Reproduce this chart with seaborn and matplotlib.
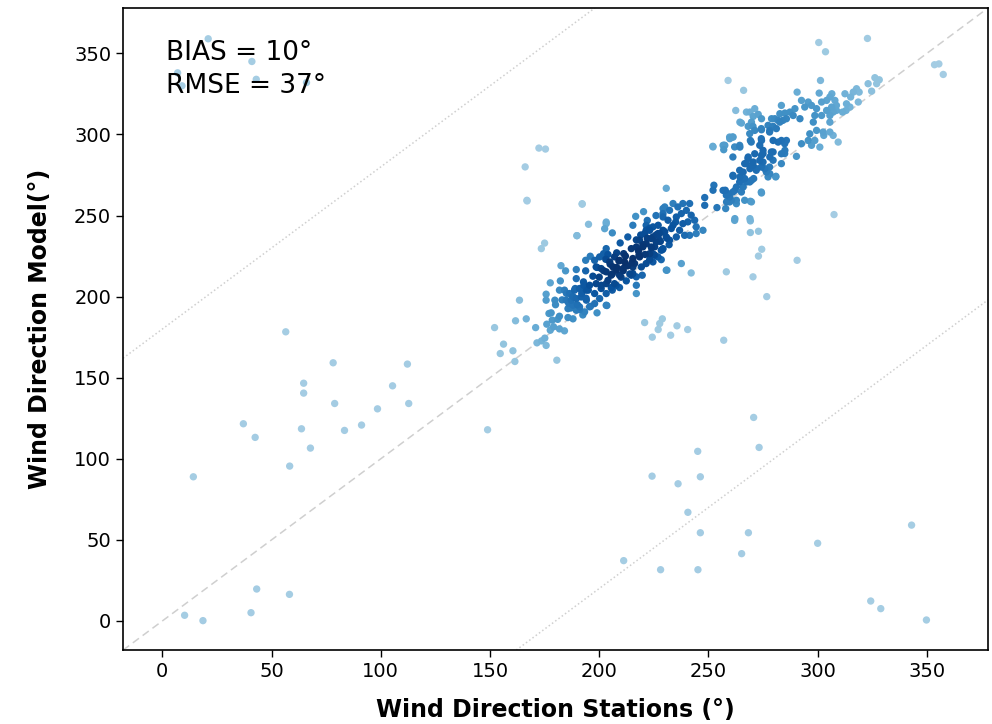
import numpy as np
import pandas as pd
import matplotlib
matplotlib.use("Agg")
import matplotlib.pyplot as plt
import seaborn as sns

# Scattered station/model pairs away from the main band
outlier_station = [21, 7, 9, 41, 43, 66,
                   56.5, 78.2, 112.2, 64.7, 64.7, 105.4, 78.9, 112.8, 98.5, 37.1, 63.7, 83.4, 91.2,
                   42.5, 67.8, 58.3, 14.2, 148.9,
                   10.2, 18.6, 40.6, 43.2, 58.2,
                   270.7, 273.2, 245.1, 224.2, 236.1, 246.3, 240.6, 246.3, 268.3, 265.2, 300, 343,
                   211.2, 228.1, 245.2, 324.3, 328.9, 349.8,
                   322.8, 300.5, 303.6, 353.5, 355.5, 357.5, 259, 266.1,
                   172.4, 175.4, 166.1, 166.9, 192.2,
                   173.5, 175, 189.8, 203.2, 230.7,
                   307.5, 269.2, 262, 269.2, 272.9, 274.4, 272.9, 290.6, 276.7,
                   220.8, 224.3, 227, 227.7, 228.9, 232.7, 235.6, 240.5, 257]
outlier_model = [359, 338, 330, 345, 334, 332,
                 178.3, 159.2, 158.4, 146.6, 140.5, 145, 134.1, 134.1, 130.8, 121.6, 118.5, 117.5, 120.8,
                 113.2, 106.6, 95.5, 88.9, 117.9,
                 3.5, 0.2, 5.1, 19.7, 16.4,
                 125.5, 107, 104.6, 89.3, 84.6, 88.9, 67, 54.4, 54.4, 41.5, 47.9, 59.1,
                 37.2, 31.6, 31.6, 12.3, 7.6, 0.6,
                 359.2, 356.7, 351, 343, 343.5, 337, 333.3, 327.2,
                 291.6, 291, 280, 259.4, 257.3,
                 229.6, 233, 237.6, 246, 266.8,
                 250.6, 246.7, 247, 239.5, 240.3, 229.2, 225, 222.4, 200,
                 184, 175, 179.7, 183.4, 186.3, 176.2, 182, 179.7, 173.1]

# Lower part of the main band (roughly 150-230 degrees)
band_low_station = [152.1, 156.2, 154.7, 160.5, 161.4, 161.7, 163.5, 166.6, 170.9, 171.5, 173.6, 175.7,
                    175.1, 180.6, 177.6, 179.1, 181.8, 184.1, 177, 178.5, 181.8, 185.7, 188, 175.7,
                    175.7, 177.6, 179.7, 182.2, 181.8, 182.5, 184.6,
                    184.1, 186.4, 188.7, 191, 184.9, 187.2, 189.5, 191.8, 194.1, 188, 191, 193.3,
                    195.6, 197.9, 200.2, 203.2, 199, 192.5, 189.5, 185.7, 194.1, 195.6, 192.8, 189.5,
                    189.5, 193.8, 197.1, 198.6, 200.9, 203.2, 197.9, 203.2, 205.5, 207.8, 209.3, 212.4,
                    214.7, 217, 217, 193.8, 195.9, 197.9, 200.2, 202, 203.2, 204.8, 206.3, 207.8,
                    205.5, 203.2, 200.9, 198.6, 209.3, 210.9, 211.6, 209.3, 207, 211.2, 215.4, 215.4,
                    218.2, 217, 214.7, 213.1, 209.6, 206, 203.2, 202.5, 195.1, 189.8, 192.2, 167,
                    215.4, 216.7, 220.3, 221.5, 220.8, 223.1, 224.6, 226.1, 221.5, 223.8, 227.7,
                    229.2, 230, 228.4, 225.4, 223.1, 221.5, 219.3, 219.7, 217, 228.4, 230.7, 224.6,
                    218.5, 203.5]
band_low_model = [180.9, 170.7, 164.9, 166.6, 160, 185.1, 197.8, 186.3, 180.9, 171.5, 172.7, 169.9,
                  174.4, 160.8, 179.3, 181.4, 180.1, 178.9, 189.6, 185.5, 187.9, 187.1, 186.3, 197.8,
                  201.5, 208.5, 197.8, 209.7, 204, 219.1, 215.9,
                  204, 201.9, 204, 205, 197.8, 197.8, 198.8, 199.8, 197.8, 194.7, 193.7, 190.6,
                  193.7, 195.7, 198.8, 194.7, 190, 188.7, 191.6, 192.6, 204, 207, 209.1, 211.1,
                  216.7, 215.9, 212.6, 208, 205, 201.9, 201.9, 208, 205.6, 207, 205.6, 209.7,
                  213.2, 201.9, 207, 222.4, 224.9, 222.4, 224.5, 226.5, 229.6, 221.4, 218.3, 216.3,
                  213.2, 215.3, 217.3, 218.3, 213.2, 217.3, 221.4, 222.4, 224.5, 226.5, 218.3, 223.5,
                  225.5, 230.6, 229.6, 236.8, 233.1, 239.3, 245, 241.9, 244.6, 237.6, 257, 259,
                  244, 249.5, 252.4, 244, 238.9, 240.9, 236.8, 233.7, 232.7, 230.6, 238.9,
                  251.2, 255.3, 228.6, 225.5, 222.8, 220.4, 218.3, 213.2, 212.2, 222.8, 216.3, 221.4,
                  234.8, 194.5]

# Tightly packed points in the darkest cores of the lower band
band_core_station = [186, 188, 190, 192, 194, 189, 185, 191, 196, 193, 187, 195,
                     200, 202, 204, 206, 208, 210, 205, 203, 209, 211, 213, 207, 199, 212, 214, 201,
                     204, 208, 215, 206,
                     218, 220, 222, 224, 226, 228, 230, 223, 227, 219, 221, 225, 229, 231, 233, 235,
                     226, 222, 217, 232,
                     178, 180, 183, 181, 176]
band_core_model = [196, 200, 195, 202, 199, 205, 202, 192, 194, 207, 193, 204,
                   212, 216, 210, 214, 218, 212, 220, 223, 222, 216, 219, 208, 218, 225, 214, 207,
                   226, 227, 221, 204,
                   228, 232, 236, 230, 238, 234, 240, 242, 244, 238, 226, 226, 229, 236, 242, 246,
                   250, 247, 235, 232,
                   190, 195, 198, 186, 183]

# Middle part of the main band (roughly 220-290 degrees)
band_mid_station = [221.5, 224.6, 226.9, 229.2, 223.8, 227.6, 230.7, 225.4, 229.2, 223.1, 226.9,
                    220, 218.5, 216.2, 215.4, 232.2, 235.3, 236.8, 239.1, 241.4, 244.4, 247.5, 244.4,
                    233.8, 238.3, 240.6, 235.3, 237.6, 239.9, 242.1, 241.4, 238.3, 236, 233.8, 232.2,
                    229.2, 229.2, 231.5, 243.7, 237.6, 231, 242.1, 258.2, 270.4,
                    248.3, 248.3, 252.1, 252.5, 253.9, 257.9, 257.7, 259.7, 261.2, 262.8, 265.1,
                    266.6, 262.8, 259.7, 258.2, 269.2, 264.3, 266.6, 268.9, 270.7, 274.2, 261.2,
                    264.3, 266.6, 268.1, 270.4, 271.9, 274.2, 275, 276.5, 278, 280.8, 279.6, 278.8,
                    275, 273.5, 274.2, 269.6, 268.9, 264.3, 261.2, 262, 259.7, 257.1, 252.1, 265.1,
                    270.4, 274.2, 278, 281.1, 281.9, 284.9, 284.9, 283.4, 284.1, 252, 256.7, 261]
band_mid_model = [240.9, 243, 238.9, 240.9, 235.8, 234.8, 236.8, 230.7, 229.6, 226.5, 224.5,
                  230.7, 224.5, 220.4, 214.2, 234.8, 236.8, 240.9, 237.8, 237.8, 238.9, 240.9, 243,
                  244, 245, 246.1, 249.1, 251.2, 253.2, 250.2, 257.4, 257.4, 255.3, 257.4, 253.2,
                  254.3, 249.1, 247.1, 247.1, 220.4, 216.3, 214.6, 215.3, 212.2,
                  261.1, 256.3, 265.6, 268.7, 254.9, 254.3, 265.6, 261.5, 264.5, 267.6, 264.5,
                  259.4, 259.4, 258.4, 262.5, 258.8, 270.7, 272.8, 270.7, 272.8, 264.5, 274.8,
                  277.9, 282, 285.1, 281, 277.9, 279.9, 283, 276.9, 279.9, 273.8, 284.1, 289.2,
                  288.2, 293.3, 297.4, 295.3, 300.5, 293.3, 286.1, 292.3, 298.4, 293.3, 292.3, 307,
                  305, 303.6, 301.5, 303.6, 295.3, 294.3, 288.2, 282, 308.7, 292.7, 293.3, 298.4]

# Upper part of the main band (roughly 255-330 degrees)
band_high_station = [301.3, 290.6, 300.7, 306.5, 292.6, 295.7, 297.2, 294.1, 299.5, 301.8, 304.1,
                     305.6, 307.9, 308.6, 306.4, 304.1, 307.1, 308.6, 305.6, 301.8, 298.7, 298,
                     299.5, 296.4, 302.5, 305.6, 302.8, 307.1, 309.4, 298.7, 301, 295.7, 292.6,
                     297.2, 290.3, 312.5, 316.3, 317.8, 319, 315.1, 313.2, 314.8, 313, 311.4, 318.6,
                     323.1, 324.7, 327, 328.2, 326.2, 305.6,
                     283.4, 280.4, 282.7, 285, 287.3, 288.8, 289.6, 291.9, 285.7, 281.9, 278.9,
                     277.3, 279.6, 282.7, 271.2, 269, 267.4, 262.5, 270.5, 272.8, 274.3, 269.7,
                     264.4, 268.2, 271.2, 274.3, 261.3, 259.8, 257.5, 257, 264.4, 269.2, 274.3,
                     278.1, 279.6, 283.4, 285.7, 285, 283.4, 279.6, 278.1, 275, 274.3, 271.2, 268.2,
                     267.4, 270.5, 273.5, 272, 269, 265.9, 275.8, 278.1, 280.9, 277.3, 261.3, 264.4,
                     267.4, 269.7, 265.9, 262.1, 259, 260.5, 256.7, 258.3, 262.8, 269.7, 274.3,
                     262.1, 269]
band_high_model = [333.3, 326.1, 325.5, 325.1, 321, 320, 317.9, 316.9, 315.9, 320, 321,
                   323.1, 321, 317.9, 316.9, 314.8, 313.8, 314.8, 311.7, 311.7, 311.7, 307.6,
                   302.5, 300.4, 301.5, 307.6, 299.4, 299.4, 295.3, 296.3, 292.2, 296.3, 294.3,
                   293.3, 286.5, 325.1, 326.1, 328.2, 326.1, 323.1, 318.9, 316.9, 314.8, 313.8, 320,
                   331.3, 326.7, 331.3, 333.7, 335, 301.5,
                   317.9, 309.7, 312.8, 313.2, 313.8, 311.7, 315.9, 309.7, 309.7, 308.7, 309.7,
                   305.6, 305, 307.6, 315.9, 313.8, 313.8, 314.8, 311.1, 312.4, 309.7, 307.6,
                   307.6, 305, 302.5, 302.9, 298.4, 297.4, 293.3, 290.6, 292.2, 296.3, 296.3,
                   302.5, 296.3, 296.3, 296.3, 290.2, 288.1, 289.2, 286.1, 290.2, 287.1, 288.1, 286.1,
                   282, 283, 284, 278.9, 278.9, 276.8, 278.9, 275.8, 274.2, 273.8, 274.2, 273.8,
                   270.7, 271.7, 267.6, 265.5, 263.5, 259.4, 265.5, 258.4, 257.3, 258.4, 263.9,
                   248.1, 248.1]

bias_deg = 10
rmse_deg = 37

station = np.array(outlier_station + band_low_station + band_core_station
                   + band_mid_station + band_high_station, float)
model = np.array(outlier_model + band_low_model + band_core_model
                 + band_mid_model + band_high_model, float)

# Gaussian kernel density estimate at each point (Scott's rule)
pts = np.vstack([station, model])
n = pts.shape[1]
factor = n ** (-1.0 / 6.0)
cov = np.cov(pts) * factor ** 2
inv = np.linalg.inv(cov)
diff = pts[:, :, None] - pts[:, None, :]
mahal = np.einsum("ij,jkl,ikl->kl", inv, diff, diff)
density = np.exp(-0.5 * mahal).sum(axis=1)
# emphasise the densest cores
shade = (density / density.max()) ** 1.8

df = pd.DataFrame({"station": station, "model": model, "shade": shade})
df = df.sort_values("shade").reset_index(drop=True)

fig = plt.figure(figsize=(9.92, 7.24), dpi=100)
ax = fig.add_axes([0.124, 0.102, 0.872, 0.887])

sns.scatterplot(data=df, x="station", y="model", hue="shade", palette="Blues",
                hue_norm=(-0.55, 1.0), s=28, linewidth=0, legend=False, ax=ax, zorder=3)

ax.axline((0, 0), slope=1, color="#cfcfcf", lw=1.1, ls=(0, (5, 3)), zorder=1)
ax.axline((0, 180), slope=1, color="#cfcfcf", lw=1.1, ls=":", zorder=1)
ax.axline((180, 0), slope=1, color="#cfcfcf", lw=1.1, ls=":", zorder=1)

ax.set_xlim(-18, 378)
ax.set_ylim(-18, 378)
ax.set_xticks([0, 50, 100, 150, 200, 250, 300, 350])
ax.set_yticks([0, 50, 100, 150, 200, 250, 300, 350])
ax.tick_params(labelsize=14, length=5, width=1)
for sp in ax.spines.values():
    sp.set_linewidth(1.2)
    sp.set_color("black")

ax.set_xlabel("Wind Direction Stations (°)", fontsize=17, fontweight="bold", labelpad=12)
ax.set_ylabel("Wind Direction Model(°)", fontsize=17, fontweight="bold", labelpad=16)

ax.text(0.05, 0.95, f"BIAS = {bias_deg}°\nRMSE = {rmse_deg}°", transform=ax.transAxes,
        fontsize=19, va="top", ha="left", linespacing=1.35, zorder=4)

fig.savefig("out.png", dpi=100)
